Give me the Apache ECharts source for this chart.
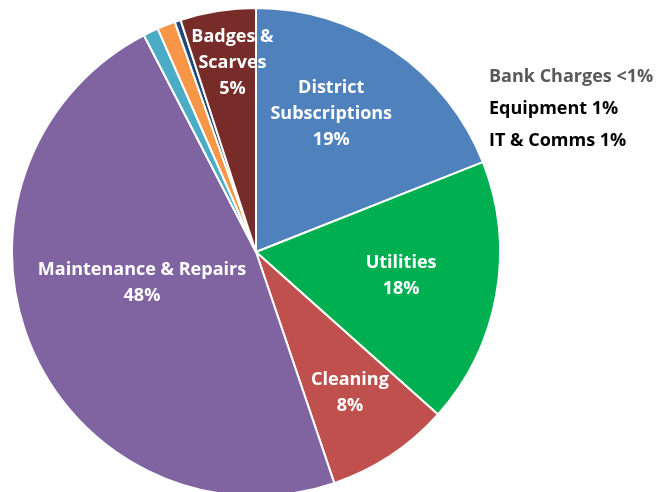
<!DOCTYPE html>
<html><head><meta charset="utf-8">
<script src="https://cdn.jsdelivr.net/npm/echarts@6/dist/echarts.min.js"></script>
<style>html,body{margin:0;padding:0;background:#fff}#c{width:661px;height:492px}</style>
</head><body><div id="c"></div>
<script>
var categories = ['District Subscriptions','Utilities','Cleaning','Maintenance & Repairs','IT & Comms','Equipment','Bank Charges','Badges & Scarves'];
var values = [19.0, 17.6, 8.2, 47.6, 1.0, 1.2, 0.4, 5.0];
var labelText = ['District\nSubscriptions\n19%','Utilities\n18%','Cleaning\n8%','Maintenance & Repairs\n48%','IT & Comms 1%','Equipment 1%','Bank Charges <1%','Badges &\nScarves\n5%'];
var colors = ['#4f81bd','#00b050','#c0504d','#8064a2','#4bacc6','#f79646','#1f497d','#772c2a'];
var offsets = [[5,-35],[22,2],[25,37],[1,-18],null,null,null,[-4,-66]];
var FONT = 'Open Sans';

var data = categories.map(function(n,i){
  var d = {name:n, value:values[i], itemStyle:{color:colors[i]}};
  if (offsets[i]) { d.label = {show:true, offset:offsets[i]}; }
  else { d.label = {show:false}; }
  return d;
});
var chart = echarts.init(document.getElementById('c'));
var outside = [6,5,4];
chart.setOption({
  animation:false,
  series:[{
    type:'pie', center:[256,252], radius:244, startAngle:90, clockwise:true,
    avoidLabelOverlap:false,
    labelLayout:{hideOverlap:false},
    itemStyle:{borderColor:'#fff', borderWidth:2},
    label:{position:'inside', color:'#fff', fontFamily:FONT, fontWeight:'bold', fontSize:18, lineHeight:26,
      formatter:function(p){return labelText[p.dataIndex];}},
    labelLine:{show:false},
    data:data
  }],
  graphic: outside.map(function(idx,k){
    return {type:'text', left:489, top:68+32*k,
      style:{text:labelText[idx], fill: idx===6 ? '#595959' : '#000', font:'bold 18px "'+FONT+'"'}};
  })
});
</script></body></html>
